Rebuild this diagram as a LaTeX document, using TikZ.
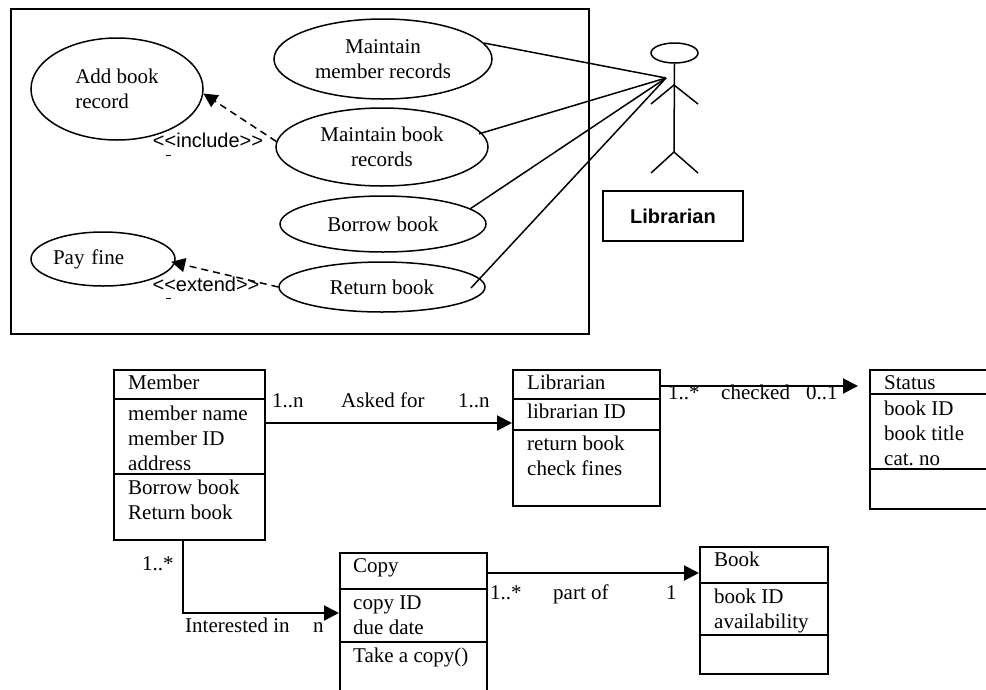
\documentclass[tikz,border=0pt]{standalone}
\usepackage{fontspec}
\setmainfont{Liberation Serif}
\setsansfont{Liberation Sans}
\usepackage{tikz}
\usetikzlibrary{shapes.geometric,arrows.meta,calc,positioning}
\tikzset{
  useCase/.style={
    ellipse,
    draw,
    line width=1.5pt,
    inner sep=0pt,
    align=center,
    font=\fontsize{21}{25}\selectfont
 },
  sysFrame/.style={
    rectangle,
    draw,
    line width=2pt,
    inner sep=0pt,
    anchor=north west
 },
  actorLine/.style={
    line width=1.5pt
 },
  actorBox/.style={
    rectangle,
    draw,
    line width=2pt,
    font=\sffamily\bfseries\fontsize{20}{24}\selectfont
 },
  stereoLabel/.style={
    inner sep=0pt,
    font=\sffamily\fontsize{20}{24}\selectfont
 },
  dashArrow/.style={
    -{Triangle[length=14pt,width=14pt]},
    line width=1.5pt,
    dash pattern=on 7pt off 5pt
 },
  classBox/.style={
    rectangle,
    draw,
    line width=2pt,
    inner sep=0pt,
    anchor=north west
 },
  classLine/.style={
    line width=2pt
 },
  classText/.style={
    anchor=north west,
    inner sep=0pt,
    align=left,
    font=\fontsize{21}{24.7}\selectfont,
    execute at begin node=\strut
 },
  assocLabel/.style={
    anchor=base west,
    inner sep=0pt,
    font=\fontsize{21}{24.7}\selectfont
 },
  assocArrow/.style={
    -{Triangle[length=15pt,width=15pt]},
    line width=2pt
 }
}
\begin{document}
\begin{tikzpicture}[x=1pt,y=-1pt]
  \clip (0,0) rectangle (986,689);
  % system boundary
  \node[sysFrame, minimum width=578pt, minimum height=325pt] (system) at (10,8) {};

  % use cases
  \node[useCase, minimum width=172pt, minimum height=102pt, align=left] (addBook) at (117,89) {Add book\\record};
  \node[useCase, minimum width=218pt, minimum height=80pt] (maintMember) at (383,59) {Maintain\\member records};
  \node[useCase, minimum width=212pt, minimum height=78pt] (maintBook) at (382,147) {Maintain book\\records};
  \node[useCase, minimum width=206pt, minimum height=56pt] (borrowBook) at (383,224) {Borrow book};
  \node[useCase, minimum width=144pt, minimum height=54pt, text width=100pt, align=left] (payFine) at (103,259) {Pay fine};
  \node[useCase, minimum width=206pt, minimum height=50pt] (returnBook) at (382,287) {Return book};

  % include / extend
  \draw[dashArrow] (maintBook.177) -- (addBook.-3);
  \node[stereoLabel] (incLabel) at (208,140) {<{}<include>{}>};
  \draw[line width=1pt] (166,155) -- (171,155);
  \draw[dashArrow, shorten >=-4pt] (returnBook.west) -- (payFine.-3);
  \node[stereoLabel] (extLabel) at (206,284) {<{}<extend>{}>};
  \draw[line width=1pt] (166,298) -- (171,298);

  % actor
  \node[ellipse, draw, line width=1.5pt, inner sep=0pt, minimum width=47pt, minimum height=20pt] (actorHead) at (674.5,53) {};
  \coordinate (hip) at (674,152);
  \coordinate (hand) at (666,78);
  \draw[actorLine] (actorHead.south) -- (hip);
  \draw[actorLine] (651,104) -- (674,85) -- (698,104);
  \draw[actorLine] (651,173) -- (hip) -- (698,173);
  \node[actorBox, minimum width=140pt, minimum height=50pt] (actorName) at (673,216) {Librarian};

  \foreach \uc/\ang/\ext in {maintMember/9/0, maintBook/8/-3, borrowBook/10/0, returnBook/5/-13}
    \draw[actorLine, shorten >=\ext pt] (hand) -- (\uc.\ang);

  % Member class
  \node[classBox, minimum width=151pt, minimum height=170pt] (member) at (113,369) {};
  \draw[classLine] ($(member.north west)+(0,30)$) -- ($(member.north east)+(0,30)$);
  \draw[classLine] ($(member.north west)+(0,105)$) -- ($(member.north east)+(0,105)$);
  \node[classText] (memberName) at ($(member.north west)+(15,3)$) {Member};
  \node[classText] (memberAttr) at ($(member.north west)+(15,37)$) {member name\\member ID\\address};
  \node[classText] (memberOps) at ($(member.north west)+(15,111)$) {Borrow book\\Return book};

  % Librarian class
  \node[classBox, minimum width=147pt, minimum height=136pt] (libClass) at (512,369) {};
  \draw[classLine] ($(libClass.north west)+(0,30)$) -- ($(libClass.north east)+(0,30)$);
  \draw[classLine] ($(libClass.north west)+(0,61)$) -- ($(libClass.north east)+(0,61)$);
  \node[classText] (libName) at ($(libClass.north west)+(15,3)$) {Librarian};
  \node[classText] (libAttr) at ($(libClass.north west)+(15,32)$) {librarian ID};
  \node[classText] (libOps) at ($(libClass.north west)+(15,67)$) {return book\\check fines};

  % Status class
  \node[classBox, minimum width=140pt, minimum height=139pt] (status) at (869,369) {};
  \draw[classLine] ($(status.north west)+(0,25)$) -- ($(status.north east)+(0,25)$);
  \draw[classLine] ($(status.north west)+(0,100)$) -- ($(status.north east)+(0,100)$);
  \node[classText] (statusName) at ($(status.north west)+(15,3)$) {Status};
  \node[classText] (statusAttr) at ($(status.north west)+(15,32)$) {book ID\\book title\\cat.\ no};

  % Copy class
  \node[classBox, minimum width=147pt, minimum height=160pt] (copy) at (339,552) {};
  \draw[classLine] ($(copy.north west)+(0,37)$) -- ($(copy.north east)+(0,37)$);
  \draw[classLine] ($(copy.north west)+(0,90)$) -- ($(copy.north east)+(0,90)$);
  \node[classText] (copyName) at ($(copy.north west)+(14,3)$) {Copy};
  \node[classText] (copyAttr) at ($(copy.north west)+(14,44)$) {copy ID\\due date};
  \node[classText] (copyOps) at ($(copy.north west)+(14,93)$) {Take a copy()};

  % Book class
  \node[classBox, minimum width=128pt, minimum height=127pt] (book) at (699,546) {};
  \draw[classLine] ($(book.north west)+(0,37)$) -- ($(book.north east)+(0,37)$);
  \draw[classLine] ($(book.north west)+(0,89)$) -- ($(book.north east)+(0,89)$);
  \node[classText] (bookName) at ($(book.north west)+(15,3)$) {Book};
  \node[classText] (bookAttr) at ($(book.north west)+(15,43)$) {book ID\\availability};

  % associations
  \draw[assocArrow] ($(member.north east)+(0,54)$) -- ($(libClass.north west)+(0,54)$);
  \node[assocLabel] (askMultA) at (272,407) {1..n};
  \node[assocLabel] (askName) at (341,407) {Asked for};
  \node[assocLabel] (askMultB) at (458,407) {1..n};

  \draw[assocArrow, shorten >=11pt] ($(libClass.north east)+(-2,17)$) -- ($(status.north west)+(0,17)$);
  \node[assocLabel] (chkMultA) at (668,399) {1..*};
  \node[assocLabel] (chkName) at (721,399) {checked};
  \node[assocLabel] (chkMultB) at (806,399) {0..1};

  \draw[assocArrow] ($(member.south west)+(70,0)$) |- ($(copy.north west)+(0,61)$);
  \node[assocLabel] (intMultA) at (142,570) {1..*};
  \node[assocLabel] (intName) at (185,632) {Interested in};
  \node[assocLabel] (intMultB) at (313,632) {n};

  \draw[assocArrow] ($(copy.north east)+(0,21)$) -- ($(book.north west)+(0,27)$);
  \node[assocLabel] (partMultA) at (490,599) {1..*};
  \node[assocLabel] (partName) at (553,599) {part of};
  \node[assocLabel] (partMultB) at (666,599) {1};
\end{tikzpicture}
\end{document}
